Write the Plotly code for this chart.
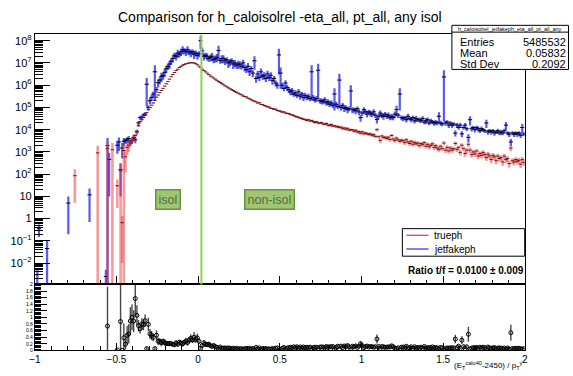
import numpy as np
import plotly.graph_objects as go

# ---------------- data ----------------
bin_width = 0.01
dense_first_center = -0.445   # first bin centre of the densely filled range
isol_cut = 0.02

# trueph counts, bins -0.445 ... 1.995 (step 0.01)
trueph_dense = [
    600, 1600, 2000, 2500, 3200, 4000, 5500, 8500, 1.5e4, 2.3e4,
    2.8e4, 3.5e4, 4.5e4, 5.8e4, 7.9e4, 1.0e5, 1.26e5, 1.58e5, 2.1e5, 2.9e5,
    3.6e5, 4.6e5, 5.8e5, 7.2e5, 9.1e5, 1.15e6, 1.45e6, 1.86e6, 2.4e6, 3.0e6,
    3.7e6, 4.5e6, 5.2e6, 6.2e6, 7.1e6, 7.9e6, 8.5e6, 9.1e6, 9.5e6, 1.0e7,
    1.02e7, 1.02e7, 1.0e7, 9.3e6, 8.3e6, 7.2e6, 6.2e6, 5.2e6, 4.6e6, 4.0e6,
    3.5e6, 3.0e6, 2.6e6, 2.35e6, 2.1e6, 1.86e6, 1.66e6, 1.48e6, 1.32e6, 1.17e6,
    1.05e6, 9.3e5, 8.5e5, 7.6e5, 6.9e5, 6.3e5, 5.8e5, 5.2e5, 4.8e5, 4.4e5,
    4.0e5, 3.7e5, 3.3e5, 3.1e5, 2.95e5, 2.6e5, 2.45e5, 2.2e5, 2.0e5, 1.92e5,
    1.78e5, 1.58e5, 1.62e5, 1.38e5, 1.33e5, 1.22e5, 1.15e5, 1.07e5, 1.02e5, 9.2e4,
    9.0e4, 8.1e4, 8.4e4, 7.3e4, 7.0e4, 6.8e4, 6.1e4, 6.3e4, 5.6e4, 5.4e4,
    5.3e4, 4.8e4, 4.7e4, 4.3e4, 4.0e4, 3.8e4, 3.6e4, 3.3e4, 3.2e4, 2.9e4,
    2.9e4, 2.6e4, 2.8e4, 2.45e4, 2.6e4, 2.3e4, 2.1e4, 2.3e4, 2.0e4, 1.95e4,
    2.1e4, 1.8e4, 1.75e4, 1.9e4, 1.6e4, 1.55e4, 1.7e4, 1.45e4, 1.5e4, 1.35e4,
    1.4e4, 1.25e4, 1.3e4, 1.1e4, 1.2e4, 1.05e4, 1.15e4, 9.5e3, 1.0e4, 9.8e3,
    8.5e3, 9.5e3, 7.8e3, 8.2e3, 7.0e3, 8.0e3, 6.5e3, 7.2e3, 6.6e3, 6.2e3,
    6.5e3, 5.6e3, 6.0e3, 5.0e3, 1.0e4, 4.8e3, 3.3e3, 5.2e3, 4.4e3, 4.6e3,
    4.0e3, 4.6e3, 3.6e3, 5.5e3, 3.8e3, 3.2e3, 4.2e3, 3.5e3, 3.0e3, 3.4e3,
    3.2e3, 2.6e3, 3.5e3, 2.8e3, 2.4e3, 3.0e3, 2.2e3, 2.7e3, 2.3e3, 2.5e3,
    1.9e3, 2.4e3, 2.1e3, 2.6e3, 1.8e3, 2.2e3, 1.7e3, 2.0e3, 2.3e3, 1.6e3,
    1.9e3, 1.5e3, 1.3e3, 1.8e3, 1.4e3, 2.5e3, 1.2e3, 1.6e3, 1.1e3, 1.5e3,
    1.2e3, 1.4e3, 2.4e3, 1.3e3, 1.6e3, 9.5e2, 2.0e3, 1.4e3, 8.5e2, 1.2e3,
    2.2e3, 1.2e3, 7.5e2, 1.0e3, 8.0e2, 1.1e3, 6.5e2, 8.5e2, 7.0e2, 9.5e2,
    7.5e2, 5.5e2, 8.0e2, 6.5e2, 4.5e2, 7.0e2, 6.0e2, 4.0e2, 6.5e2, 5.0e2,
    5.5e2, 3.5e2, 6.5e2, 4.5e2, 5.0e2, 3.0e2, 1.5e3, 4.0e2, 3.5e2, 4.5e2,
    3.8e2, 4.2e2, 2.8e2, 4.5e2, 3.3e2,
]
trueph_dense_relerr = [
    .8, .55, .5, .35, .25, .22, .18, .15, .12, .1,
    .09, .08, .07, .06, .05, .05, .04, .04, .03, .03,
    .02, .02, .02, .015, .015, .01, .01, .01, .01, .01,
    .005, .005, .005, .005, .005, .005, .005, .005, .005, .005,
    .005, .005, .005, .005, .005, .005, .005, .005, .005, .005,
    .008, .008, .008, .008, .008, .008, .008, .008, .008, .008,
    .012, .015, .012, .015, .015, .015, .018, .015, .018, .02,
    .025, .03, .025, .03, .03, .035, .03, .03, .035, .035,
    .04, .045, .04, .04, .045, .05, .045, .05, .05, .05,
    .055, .06, .06, .065, .06, .07, .065, .07, .07, .075,
    .08, .08, .085, .08, .09, .085, .09, .09, .1, .095,
    .1, .11, .1, .12, .1, .11, .12, .1, .12, .11,
    .12, .13, .11, .12, .14, .12, .13, .11, .12, .13,
    .13, .12, .14, .12, .13, .15, .12, .14, .13, .12,
    .15, .14, .16, .15, .17, .14, .16, .15, .14, .16,
    .15, .17, .16, .15, .18, .16, .25, .15, .17, .16,
    .18, .17, .2, .16, .19, .2, .18, .17, .2, .19,
    .2, .22, .19, .2, .23, .2, .22, .21, .2, .22,
    .22, .2, .21, .19, .23, .2, .24, .22, .2, .23,
    .22, .24, .25, .21, .24, .2, .26, .23, .25, .22,
    .25, .23, .22, .24, .22, .27, .24, .22, .28, .25,
    .24, .26, .27, .25, .26, .24, .28, .26, .27, .25,
    .27, .3, .26, .28, .31, .27, .29, .3, .27, .29,
    .28, .32, .27, .3, .29, .33, .28, .3, .31, .29,
    .3, .29, .33, .3, .31,
]

# jetfakeph counts, same bins
jetfake_dense = [
    3.2e3, 3.5e3, 4.0e3, 2.8e3, 3.2e3, 4.5e3, 3.5e3, 8.0e3, 2.0e4, 3.5e4,
    3.5e4, 4.5e4, 5.0e4, 1.1e6, 1.0e5, 2.0e5, 2.8e5, 4.0e5, 4.0e6, 6.3e5,
    1.3e6, 1.7e6, 2.5e6, 2.7e6, 3.8e6, 5.5e6, 7.0e6, 9.0e6, 1.2e7, 1.6e7,
    2.2e7, 2.0e7, 2.8e7, 2.5e7, 3.2e7, 4.0e7, 3.5e7, 3.2e7, 4.0e7, 3.2e7,
    2.8e7, 3.2e7, 2.5e7, 2.8e7, 2.2e7, 2.6e7, 1.0e8, 3.5e7, 2.0e7, 2.2e7,
    2.0e7, 1.6e7, 1.8e7, 2.0e7, 1.4e7, 1.6e7, 1.8e7, 3.6e7, 1.3e7, 1.6e7,
    1.6e7, 1.25e7, 1.4e7, 1.0e7, 1.1e7, 1.25e7, 8.9e6, 1.0e7, 7.9e6, 8.9e6,
    8.9e6, 7.1e6, 1.0e7, 6.3e6, 5.0e6, 7.1e6, 4.0e6, 5.6e6, 3.5e6, 1.25e7,
    2.0e6, 3.2e6, 2.2e6, 4.0e6, 2.5e6, 2.8e6, 2.0e6, 3.2e6, 2.2e6, 2.8e6,
    1.6e6, 2.0e6, 1.25e6, 1.0e6, 2.3e7, 3.5e6, 1.0e6, 7.1e5, 1.25e6, 7.9e5,
    6.3e5, 5.0e5, 5.6e5, 4.0e5, 4.5e5, 3.5e5, 5.0e5, 3.2e5, 4.0e5, 2.8e5,
    3.5e5, 2.8e5, 3.2e5, 2.5e5, 4.0e6, 2.8e5, 2.2e5, 2.5e5, 4.7e6, 2.0e5,
    2.0e5, 1.8e5, 2.2e5, 1.6e5, 1.8e5, 1.4e5, 1.6e5, 1.25e5, 4.0e5, 1.4e5,
    1.1e5, 1.7e6, 1.0e5, 1.25e5, 8.9e4, 1.0e5, 7.9e4, 8.9e4, 5.5e5, 7.9e4,
    7.9e4, 7.1e4, 8.9e4, 6.3e4, 3.5e4, 5.6e4, 7.9e4, 6.3e4, 5.0e4, 6.3e4,
    5.6e4, 5.0e4, 6.3e4, 4.5e4, 2.9e4, 4.0e4, 5.6e4, 4.5e4, 4.0e4, 5.0e4,
    4.0e4, 4.5e4, 3.5e4, 4.0e4, 3.5e4, 5.0e4, 8.0e4, 4.5e4, 4.0e5, 3.5e4,
    3.2e4, 3.5e4, 2.8e4, 4.0e4, 3.2e4, 2.8e4, 3.5e4, 2.5e4, 3.2e4, 2.8e4,
    2.8e4, 2.5e4, 3.2e4, 2.2e4, 2.5e4, 2.8e4, 2.0e4, 2.5e4, 2.2e4, 2.0e4,
    2.2e4, 2.0e4, 4.0e4, 2.0e4, 1.8e4, 2.35e6, 2.0e4, 2.2e4, 1.6e4, 2.0e4,
    1.6e4, 1.8e4, 7.0e3, 1.6e4, 1.25e4, 1.6e4, 6.5e3, 1.25e4, 1.6e4, 1.1e4,
    4.5e3, 2.8e4, 1.1e4, 1.25e4, 1.0e4, 1.25e4, 1.1e4, 8.9e3, 1.1e4, 1.0e4,
    8.9e3, 2.0e4, 7.9e3, 8.9e3, 7.9e3, 8.9e3, 7.1e3, 7.9e3, 8.9e3, 7.1e3,
    7.9e3, 7.1e3, 8.9e3, 1.6e4, 7.1e3, 6.3e3, 2.8e3, 7.1e3, 6.3e3, 7.1e3,
    6.3e3, 7.1e3, 5.6e3, 1.25e4, 6.3e3,
]
jetfake_dense_relerr = [
    .3, .3, .3, .3, .3, .3, .3, .25, .2, .2,
    .2, .2, .2, .9, .25, .3, .3, .3, .95, .3,
    .4, .35, .45, .35, .4, .35, .3, .4, .3, .35,
    .3, .35, .4, .3, .35, .4, .3, .35, .4, .3,
    .35, .3, .4, .3, .35, .3, .6, .4, .35, .3,
    .35, .3, .35, .4, .3, .35, .4, .65, .3, .4,
    .4, .35, .3, .4, .35, .3, .4, .35, .3, .4,
    .35, .3, .4, .35, .3, .4, .35, .3, .35, .6,
    .35, .4, .3, .4, .3, .35, .3, .4, .3, .35,
    .35, .3, .3, .3, .87, .8, .3, .25, .35, .3,
    .3, .3, .35, .25, .3, .25, .35, .3, .25, .3,
    .3, .25, .3, .25, .95, .3, .25, .3, .95, .25,
    .3, .25, .3, .25, .3, .25, .3, .25, .82, .3,
    .25, .94, .3, .25, .3, .25, .3, .25, .82, .3,
    .25, .3, .25, .3, .35, .25, .3, .25, .3, .25,
    .3, .25, .3, .25, .35, .25, .3, .25, .3, .25,
    .25, .3, .25, .3, .25, .3, .5, .25, .82, .25,
    .25, .2, .25, .3, .2, .25, .2, .25, .3, .2,
    .25, .2, .25, .2, .3, .25, .2, .25, .2, .25,
    .25, .2, .5, .25, .2, .99, .25, .2, .25, .2,
    .25, .2, .3, .25, .2, .25, .3, .2, .25, .2,
    .4, .45, .25, .2, .25, .2, .25, .2, .25, .2,
    .2, .4, .25, .2, .25, .2, .25, .2, .25, .2,
    .25, .2, .25, .4, .2, .25, .35, .2, .25, .2,
    .25, .2, .25, .45, .2,
]

# isolated bins on the far left
trueph_sparse_x = [-0.755, -0.615, -0.555, -0.525, -0.495, -0.475, -0.465, -0.455]
trueph_sparse_v = [85, 900, 1400, 1250, 30, 140, 0.66, 1150]
trueph_sparse_e = [80, 1000, 1500, 1300, 27, 155, 0.65, 1200]

jetfake_sparse_x = [-0.985, -0.975, -0.925, -0.795, -0.665, -0.565, -0.555,
                    -0.545, -0.495, -0.485, -0.475, -0.465, -0.455]
jetfake_sparse_v = [0.003, 0.35, 0.045, 5, 11.7, 0.0025, 1900,
                    460, 2000, 2800, 160, 1500, 3000]
jetfake_sparse_e = [0.002, 0.2, 0.055, 4.8, 11, 0.0025, 2300,
                    450, 1165, 1700, 150, 1000, 1200]

y_tick_vals = [1e-2, 1e-1, 1, 10, 1e2, 1e3, 1e4, 1e5, 1e6, 1e7, 1e8]
y_tick_text = ["10<sup>\u22122</sup>", "10<sup>\u22121</sup>", "1", "10",
               "10<sup>2</sup>", "10<sup>3</sup>", "10<sup>4</sup>", "10<sup>5</sup>",
               "10<sup>6</sup>", "10<sup>7</sup>", "10<sup>8</sup>"]
x_tick_vals = [-1, -0.5, 0, 0.5, 1, 1.5, 2]
x_tick_text = ["\u22121", "\u22120.5", "0", "0.5", "1", "1.5", "2"]

stats_title = "h_caloisolrel_jetfakeph_eta_all_pt_all_any"
stats_rows = [("Entries", "5485532"), ("Mean", "0.05832"), ("Std Dev", "0.2092")]
legend_names = ["trueph", "jetfakeph"]
ratio_text = "Ratio t/f = 0.0100 \u00b1 0.009"
title_text = "Comparison for h_caloisolrel -eta_all, pt_all, any isol"

# ---------------- assemble ----------------
nd = len(trueph_dense)
dense_x = dense_first_center + bin_width * np.arange(nd)
t_v = np.array(trueph_dense, float)
t_e = t_v * np.array(trueph_dense_relerr, float)
f_v = np.array(jetfake_dense, float)
f_e = f_v * np.array(jetfake_dense_relerr, float)

t_x_all = np.concatenate([trueph_sparse_x, dense_x])
t_v_all = np.concatenate([trueph_sparse_v, t_v])
t_e_all = np.concatenate([trueph_sparse_e, t_e])
f_x_all = np.concatenate([jetfake_sparse_x, dense_x])
f_v_all = np.concatenate([jetfake_sparse_v, f_v])
f_e_all = np.concatenate([jetfake_sparse_e, f_e])

# ratio t/f where both exist
tmap = {round(x, 3): (v, e) for x, v, e in zip(t_x_all, t_v_all, t_e_all)}
fmap = {round(x, 3): (v, e) for x, v, e in zip(f_x_all, f_v_all, f_e_all)}
r_x, r_v, r_e = [], [], []
for key in sorted(set(tmap) & set(fmap)):
    tv, te = tmap[key]
    fv, fe = fmap[key]
    r = tv / fv
    r_x.append(key)
    r_v.append(r)
    r_e.append(r * np.sqrt((te / tv) ** 2 + (fe / fv) ** 2))

W, H = 573, 376
def px(x):
    return x / W
def py(y):
    return 1 - y / H

FONT = "Liberation Sans, Arial, Helvetica, sans-serif"
xdom = [px(29.3), px(527)]
ydom_up = [py(286), py(32)]
ydom_lo = [py(353), py(286)]
ylog_range = [-2.96, 8.28]

fig = go.Figure()

fig.add_trace(go.Scatter(
    x=f_x_all, y=f_v_all, mode="markers", name=legend_names[1],
    error_y=dict(type="data", array=f_e_all, color="rgba(25,25,245,0.72)",
                 thickness=2.2, width=0),
    marker=dict(symbol="line-ew", size=3, color="black",
                line=dict(color="black", width=1)),
    xaxis="x", yaxis="y", showlegend=False))
fig.add_trace(go.Scatter(
    x=t_x_all, y=t_v_all, mode="markers", name=legend_names[0],
    error_y=dict(type="data", array=t_e_all, color="rgba(235,55,55,0.5)",
                 thickness=2.6, width=0),
    marker=dict(symbol="line-ew", size=2.5, color="rgb(110,20,20)",
                line=dict(color="rgb(110,20,20)", width=1)),
    xaxis="x", yaxis="y", showlegend=False))

# invisible trace to carry the minor-tick overlay axis
fig.add_trace(go.Scatter(x=[None], y=[None], xaxis="x", yaxis="y3",
                         showlegend=False, hoverinfo="skip"))

fig.add_trace(go.Scatter(
    x=r_x, y=r_v, mode="markers", name="ratio",
    error_y=dict(type="data", array=r_e, color="rgba(40,40,40,0.85)",
                 thickness=1.4, width=0),
    marker=dict(symbol="circle-open", size=4, color="black",
                line=dict(color="black", width=1)),
    xaxis="x2", yaxis="y2", showlegend=False))

minor_vals = [k * 10.0 ** n for n in range(-3, 9) for k in range(2, 10)]

axis_common = dict(showgrid=False, zeroline=False, showline=True, linecolor="black",
                   linewidth=1, mirror=True, ticks="inside", tickcolor="black")

fig.update_layout(
    width=W, height=H, margin=dict(l=0, r=0, t=0, b=0),
    paper_bgcolor="white", plot_bgcolor="white",
    font=dict(family=FONT, color="black"),
    showlegend=False,
    xaxis=dict(domain=xdom, range=[-1, 2], anchor="y", dtick=0.5, tick0=0,
               ticklen=8, showticklabels=False,
               minor=dict(dtick=0.1, ticklen=4, ticks="inside", tickcolor="black"),
               **axis_common),
    yaxis=dict(domain=ydom_up, type="log", range=ylog_range, anchor="x",
               tickvals=y_tick_vals, ticktext=y_tick_text, ticklen=15,
               tickfont=dict(size=11, family=FONT), **axis_common),
    yaxis3=dict(overlaying="y", type="log", range=ylog_range, anchor="x",
                tickvals=minor_vals, ticks="inside", ticklen=8, tickcolor="black",
                showticklabels=False, showgrid=False, zeroline=False, showline=False,
                side="left"),
    xaxis2=dict(domain=xdom, range=[-1, 2], anchor="y2", tickvals=x_tick_vals,
                ticktext=x_tick_text, ticklen=7, tickfont=dict(size=10, family=FONT),
                minor=dict(dtick=0.1, ticklen=4, ticks="inside", tickcolor="black"),
                **axis_common),
    yaxis2=dict(domain=ydom_lo, range=[0, 2], anchor="x2", dtick=0.2, tick0=0,
                ticklen=12, tickfont=dict(size=5, family=FONT),
                minor=dict(dtick=0.04, ticklen=6, ticks="inside", tickcolor="black"),
                **axis_common),
)

shapes = []
# isolation cut line
shapes.append(dict(type="line", xref="x", yref="y domain", x0=isol_cut, x1=isol_cut,
                   y0=0, y1=1, line=dict(color="rgb(145,210,80)", width=2)))
# stats box
shapes.append(dict(type="rect", xref="paper", yref="paper", x0=px(453), x1=px(571.5),
                   y0=py(67.5), y1=py(22.7), line=dict(color="black", width=1),
                   fillcolor="white"))
shapes.append(dict(type="line", xref="paper", yref="paper", x0=px(453), x1=px(571.5),
                   y0=py(29.6), y1=py(29.6), line=dict(color="black", width=1)))
# legend box
shapes.append(dict(type="rect", xref="paper", yref="paper", x0=px(402.7), x1=px(527),
                   y0=py(257.3), y1=py(229.3), line=dict(color="black", width=1),
                   fillcolor="white"))
for yy, col in [(236, "red"), (250, "blue")]:
    shapes.append(dict(type="line", xref="paper", yref="paper", x0=px(406.7),
                       x1=px(429.3), y0=py(yy), y1=py(yy), line=dict(color=col, width=1)))
fig.update_layout(shapes=shapes)

ann = []
ann.append(dict(text=title_text, x=px(278), y=py(14.6), xref="paper", yref="paper",
                showarrow=False, xanchor="center", yanchor="middle",
                font=dict(size=14, family=FONT)))
ann.append(dict(text=stats_title, x=px(512), y=py(26.2), xref="paper", yref="paper",
                showarrow=False, xanchor="center", yanchor="middle",
                font=dict(size=5.5, family=FONT)))
for i, (k, v) in enumerate(stats_rows):
    yy = 39.3 + 11.3 * i
    ann.append(dict(text=k, x=px(459), y=py(yy), xref="paper", yref="paper",
                    showarrow=False, xanchor="left", yanchor="middle",
                    font=dict(size=11, family=FONT)))
    ann.append(dict(text=v, x=px(571), y=py(yy), xref="paper", yref="paper",
                    showarrow=False, xanchor="right", yanchor="middle",
                    font=dict(size=11, family=FONT)))
for yy, name in [(236, legend_names[0]), (250, legend_names[1])]:
    ann.append(dict(text=name, x=px(433), y=py(yy), xref="paper", yref="paper",
                    showarrow=False, xanchor="left", yanchor="middle",
                    font=dict(size=10, family=FONT)))
ann.append(dict(text="<b>" + ratio_text + "</b>", x=px(406.7), y=py(271.7),
                xref="paper", yref="paper", showarrow=False, xanchor="left",
                yanchor="middle", font=dict(size=10, family=FONT)))
for txt, cx in [("isol", 164.2), ("non-isol", 267.7)]:
    ann.append(dict(text=txt, x=px(cx), y=py(199.3), xref="paper", yref="paper",
                    showarrow=False, xanchor="center", yanchor="middle",
                    font=dict(size=12.5, family=FONT, color="rgb(80,110,55)"),
                    bgcolor="rgb(160,198,115)", bordercolor="rgb(105,148,62)",
                    borderwidth=1.5, borderpad=2))
ann.append(dict(text="(E<sub>T</sub><sup>calo40</sup>-2450) / p<sub>T</sub><sup>\u03b3</sup>",
                x=px(527), y=py(368), xref="paper", yref="paper", showarrow=False,
                xanchor="right", yanchor="middle", font=dict(size=8, family=FONT)))
fig.update_layout(annotations=ann)

fig.write_html("out.html")
